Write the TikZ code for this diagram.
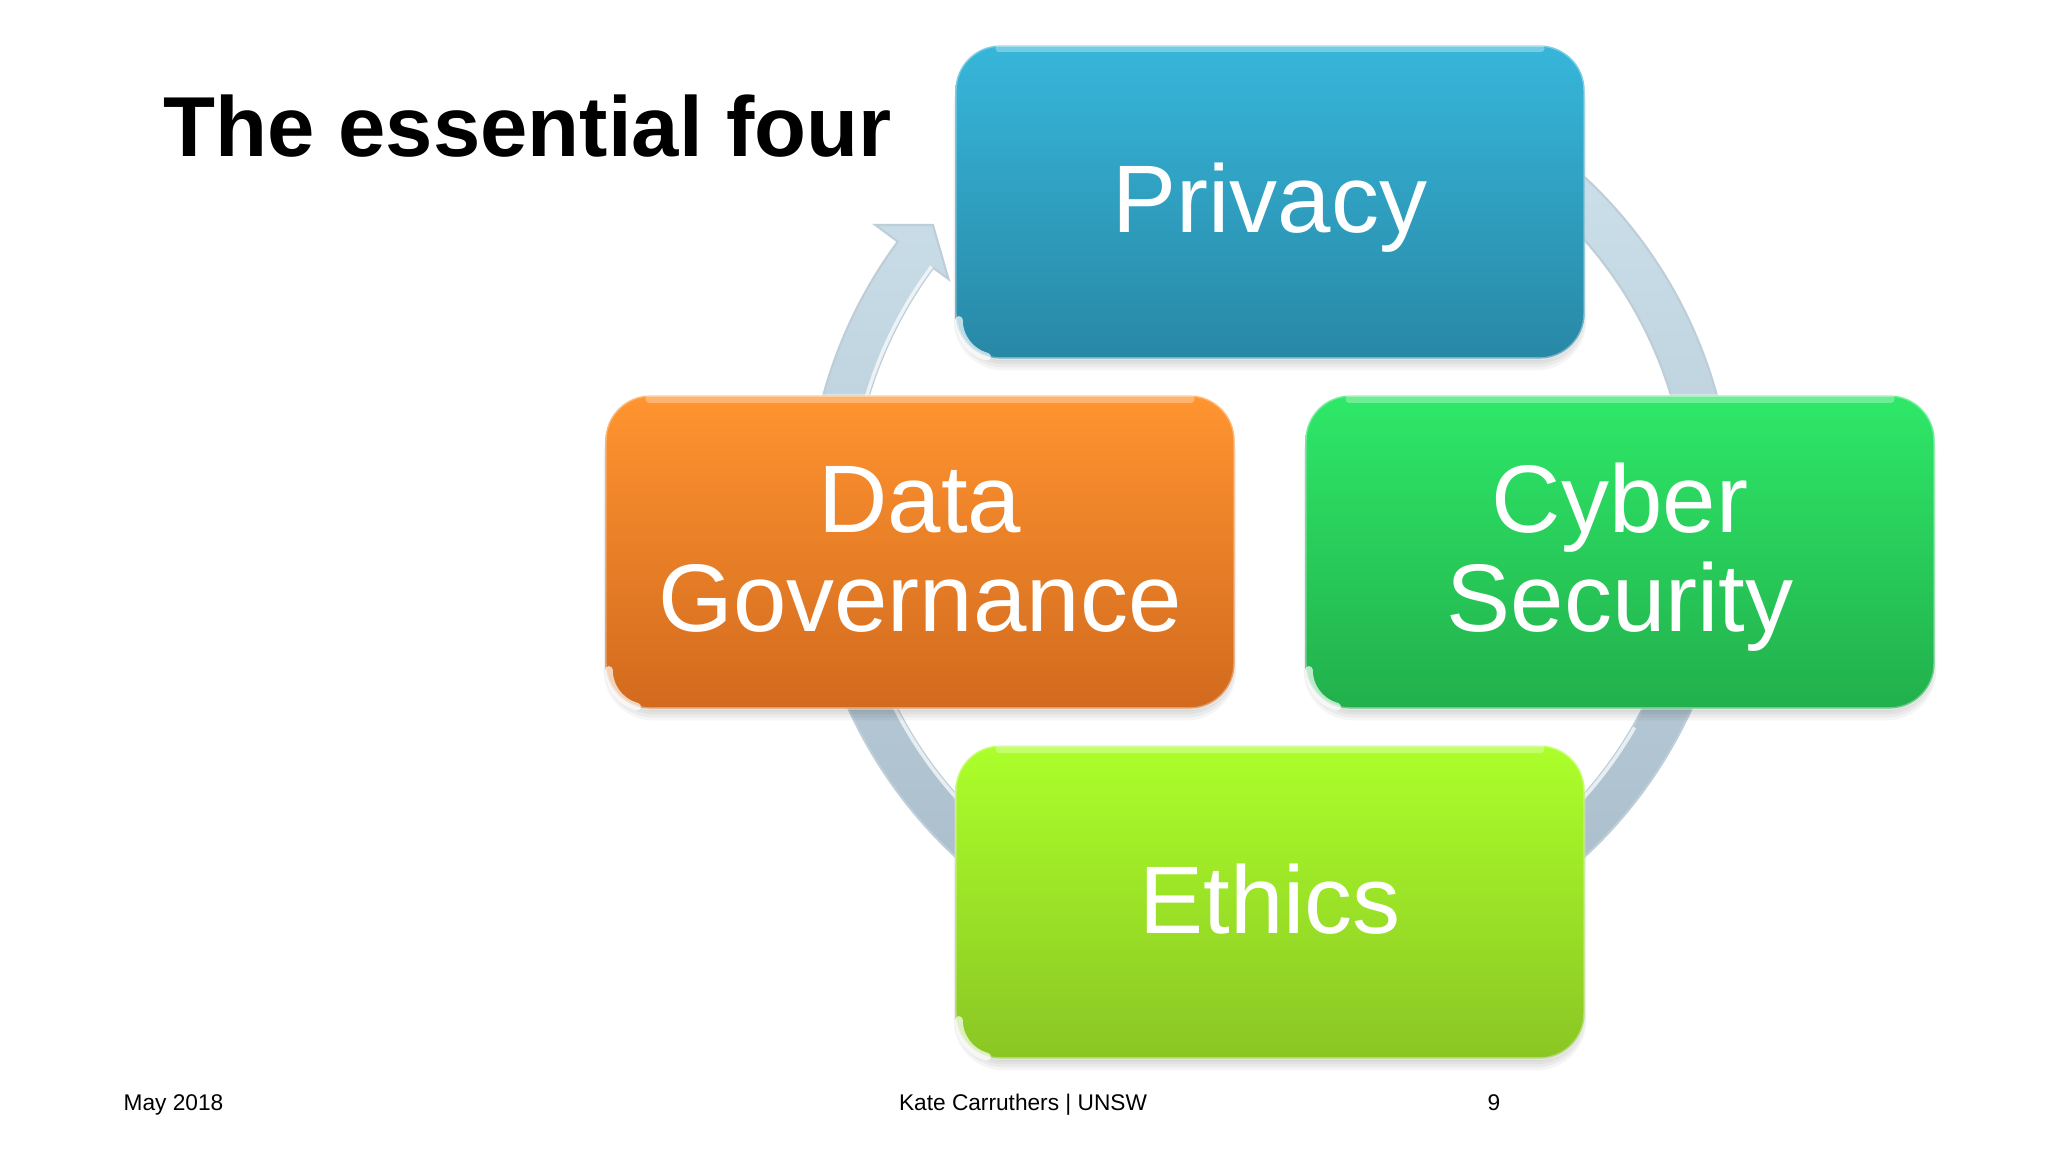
\documentclass[tikz,border=0pt]{standalone}
\usepackage{fontspec}
\setmainfont{Liberation Sans}
\usetikzlibrary{calc}
\definecolor{privtop}{RGB}{55,182,218}
\definecolor{privbot}{RGB}{40,136,166}
\definecolor{orgtop}{RGB}{255,148,48}
\definecolor{orgbot}{RGB}{210,106,30}
\definecolor{grntop}{RGB}{46,232,104}
\definecolor{grnbot}{RGB}{34,176,76}
\definecolor{limtop}{RGB}{172,255,42}
\definecolor{limbot}{RGB}{138,198,36}
\definecolor{ringtop}{RGB}{208,228,238}
\definecolor{ringbot}{RGB}{164,184,198}
\definecolor{ringedge}{RGB}{190,206,216}
\begin{document}
\begin{tikzpicture}[x=0.01cm,y=0.01cm,
  box/.style={rounded corners=0.45cm, minimum width=6.29cm, minimum height=3.13cm, inner sep=0pt, draw=white, draw opacity=0.35, line width=0.8pt},
  boxtext/.style={text=white, font=\fontsize{27.3}{28.2}\selectfont, align=center, inner sep=0pt},
  shadowbox/.style={fill=black, rounded corners=0.5cm, opacity=0.04},
  foot/.style={font=\fontsize{6.45}{7.5}\selectfont, inner sep=0pt}]
\useasboundingbox (0,0) rectangle (2048,1152);
\fill[white] (0,0) rectangle (2048,1152);

% title
\node[anchor=base west, inner sep=0pt, font=\fontsize{24.2}{28}\selectfont\bfseries] (title) at (163,995) {The essential four};

% circular arrow
\begin{scope}[shift={(1270,635)}]
\path[top color=ringtop, bottom color=ringbot, draw=ringedge, line width=0.6pt]
  (80:463) arc[start angle=80, end angle=-216.5, radius=463]
  -- (-216.5:491) -- (-220.9:446) -- (-216.5:400) -- (-216.5:419)
  arc[start angle=-216.5, end angle=80, radius=419] -- cycle;
\draw[white, opacity=0.7, line width=1pt] (-216.5:421) arc[start angle=-216.5, end angle=-30, radius=421];
\end{scope}

% shadows
\foreach \cx/\cy in {1270/950, 920/600, 1620/600, 1270/250}{
  \foreach \s in {3,6,9,12}{
    \fill[shadowbox] (\cx-314.5-\s*0.15,\cy-156.5-\s) rectangle (\cx+314.5+\s*0.15,\cy+156.5-\s*0.8);
  }
}

% boxes
\node[box, top color=privtop, bottom color=privbot] (privacy) at (1270,950) {};
\node[box, top color=orgtop, bottom color=orgbot] (datagov) at (920,600) {};
\node[box, top color=grntop, bottom color=grnbot] (cyber) at (1620,600) {};
\node[box, top color=limtop, bottom color=limbot] (ethics) at (1270,250) {};

% highlights
\foreach \b in {privacy,datagov,cyber,ethics}{
  \draw[white, opacity=0.3, line width=2pt, line cap=round] ($(\b.north west)+(45,-5)$) -- ($(\b.north east)+(-45,-5)$);
  \draw[white, opacity=0.7, line width=2.2pt, line cap=round] ($(\b.south west)+(5,40)$) arc[start angle=180, end angle=255, radius=38];
}

% labels
\node[boxtext, anchor=base] (privacyT) at (1270,919.5) {Privacy};
\node[boxtext, anchor=base] (dataT) at (920,619) {Data};
\node[boxtext, anchor=base] (govT) at (920,520) {Governance};
\node[boxtext, anchor=base] (cyberT) at (1620,619) {Cyber};
\node[boxtext, anchor=base] (secT) at (1620,520) {Security};
\node[boxtext, anchor=base] (ethicsT) at (1270,218) {Ethics};

% footer
\node[foot, anchor=base west] (date) at (123,41) {May 2018};
\node[foot, anchor=base] (author) at (1023,41) {Kate Carruthers | UNSW};
\node[foot, anchor=base] (page) at (1494,41) {9};
\end{tikzpicture}
\end{document}
